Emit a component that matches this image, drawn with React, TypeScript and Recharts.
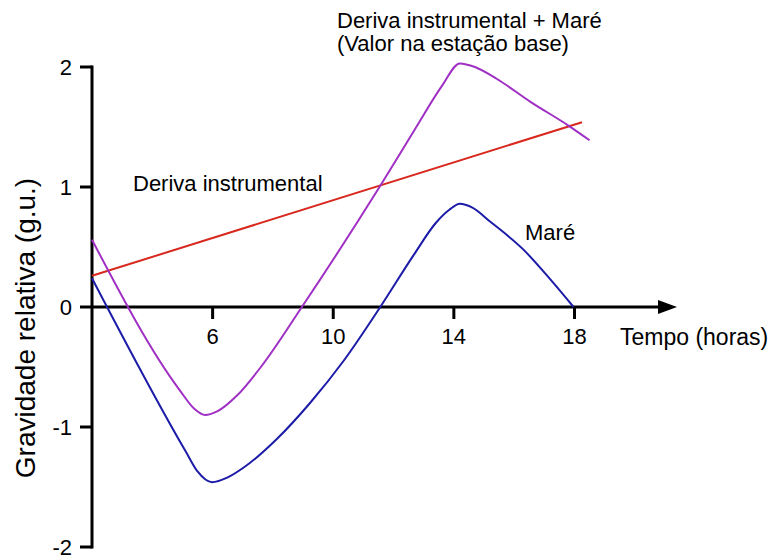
import { LineChart, Line, XAxis, YAxis, ReferenceLine, ReferenceDot } from 'recharts';

const FONT = '"Liberation Sans", Arial, Helvetica, sans-serif';

const X_DOMAIN: [number, number] = [2, 21.4];
const Y_DOMAIN: [number, number] = [-2, 2.1];
const Y_TICKS = [-2, -1, 0, 1, 2];
const X_TICKS = [6, 10, 14, 18];

// Deriva instrumental (linear drift)
const derivaHours = [2, 18.25];
const derivaValues = [0.26, 1.54];

// Maré
const mareHours = [2, 5.1, 5.5, 5.98, 6.5, 7.02, 8.13, 9.23, 10.34, 11.56, 12.66, 13.4, 13.85, 14.2, 14.6, 15.21, 16.3, 17.2, 17.97];
const mareValues = [0.24, -1.2, -1.37, -1.46, -1.42, -1.34, -1.1, -0.8, -0.45, 0, 0.43, 0.7, 0.81, 0.86, 0.83, 0.71, 0.48, 0.23, 0];

// Deriva instrumental + Maré
const somaHours = [2, 4.9, 5.4, 5.75, 6.15, 6.8, 7.6, 8.96, 11.56, 12.78, 13.6, 14.2, 14.7, 15.43, 16.54, 17.81, 18.5];
const somaValues = [0.56, -0.69, -0.85, -0.9, -0.87, -0.74, -0.5, 0, 1.01, 1.51, 1.84, 2.03, 2.0, 1.9, 1.71, 1.51, 1.39];

const toRows = (hours: number[], values: number[]) => hours.map((t, i) => ({ t, v: values[i] }));

const derivaData = toRows(derivaHours, derivaValues);
const mareData = toRows(mareHours, mareValues);
const somaData = toRows(somaHours, somaValues);

const AxisArrow = (p: any) => {
  const { x1, y1, x2, y2 } = p;
  return (
    <g>
      <line x1={x1} y1={y1} x2={x2 - 12} y2={y2} stroke="#000" strokeWidth={3} />
      <polygon points={`${x2},${y2} ${x2 - 19},${y2 - 7} ${x2 - 19},${y2 + 7}`} fill="#000" />
    </g>
  );
};

const xTick = (label: number) => (p: any) => {
  const { cx, cy } = p;
  return (
    <g>
      <line x1={cx} y1={cy} x2={cx} y2={cy + 12} stroke="#000" strokeWidth={3} />
      <text x={cx} y={cy + 37} textAnchor="middle" fontSize={22} fontFamily={FONT} fill="#000">
        {label}
      </text>
    </g>
  );
};

export default function App() {
  return (
    <div style={{ position: 'absolute', left: 0, top: 0, width: 778, height: 558, background: '#fff' }}>
      <LineChart width={778} height={558} margin={{ top: 55, right: 101, bottom: 11, left: 52 }}>
        <XAxis type="number" dataKey="t" domain={X_DOMAIN} hide />
        <YAxis
          type="number"
          domain={Y_DOMAIN}
          ticks={Y_TICKS}
          interval={0}
          width={40}
          axisLine={false}
          tickLine={{ stroke: '#000', strokeWidth: 3 }}
          tickSize={12}
          tickMargin={8}
          tick={{ fill: '#000', fontSize: 22, fontFamily: FONT }}
        />
        <ReferenceLine
          segment={[
            { x: X_DOMAIN[0], y: Y_TICKS[0] },
            { x: X_DOMAIN[0], y: Y_TICKS[Y_TICKS.length - 1] },
          ]}
          stroke="#000"
          strokeWidth={3}
          strokeLinecap="square"
        />
        <ReferenceLine y={0} shape={AxisArrow} />
        {X_TICKS.map((t) => (
          <ReferenceDot key={t} x={t} y={0} r={0} shape={xTick(t)} />
        ))}
        <Line data={derivaData} dataKey="v" type="linear" stroke="#d8281e" strokeWidth={2} dot={false} isAnimationActive={false} />
        <Line data={somaData} dataKey="v" type="monotone" stroke="#a030c4" strokeWidth={2} dot={false} isAnimationActive={false} />
        <Line data={mareData} dataKey="v" type="monotone" stroke="#1c1ca8" strokeWidth={2} dot={false} isAnimationActive={false} />
      </LineChart>
      <svg width={778} height={558} style={{ position: 'absolute', left: 0, top: 0, pointerEvents: 'none' }}>
        <g fontFamily={FONT} fontSize={22} fill="#000">
          <text x={337} y={28}>Deriva instrumental + Maré</text>
          <text x={337} y={51}>(Valor na estação base)</text>
          <text x={133} y={191}>Deriva instrumental</text>
          <text x={525} y={240}>Maré</text>
          <text x={620} y={345} fontSize={23}>Tempo (horas)</text>
          <text x={25} y={328} fontSize={28} textAnchor="middle" dominantBaseline="central" transform="rotate(-90 25 328)">
            Gravidade relativa (g.u.)
          </text>
        </g>
      </svg>
    </div>
  );
}
